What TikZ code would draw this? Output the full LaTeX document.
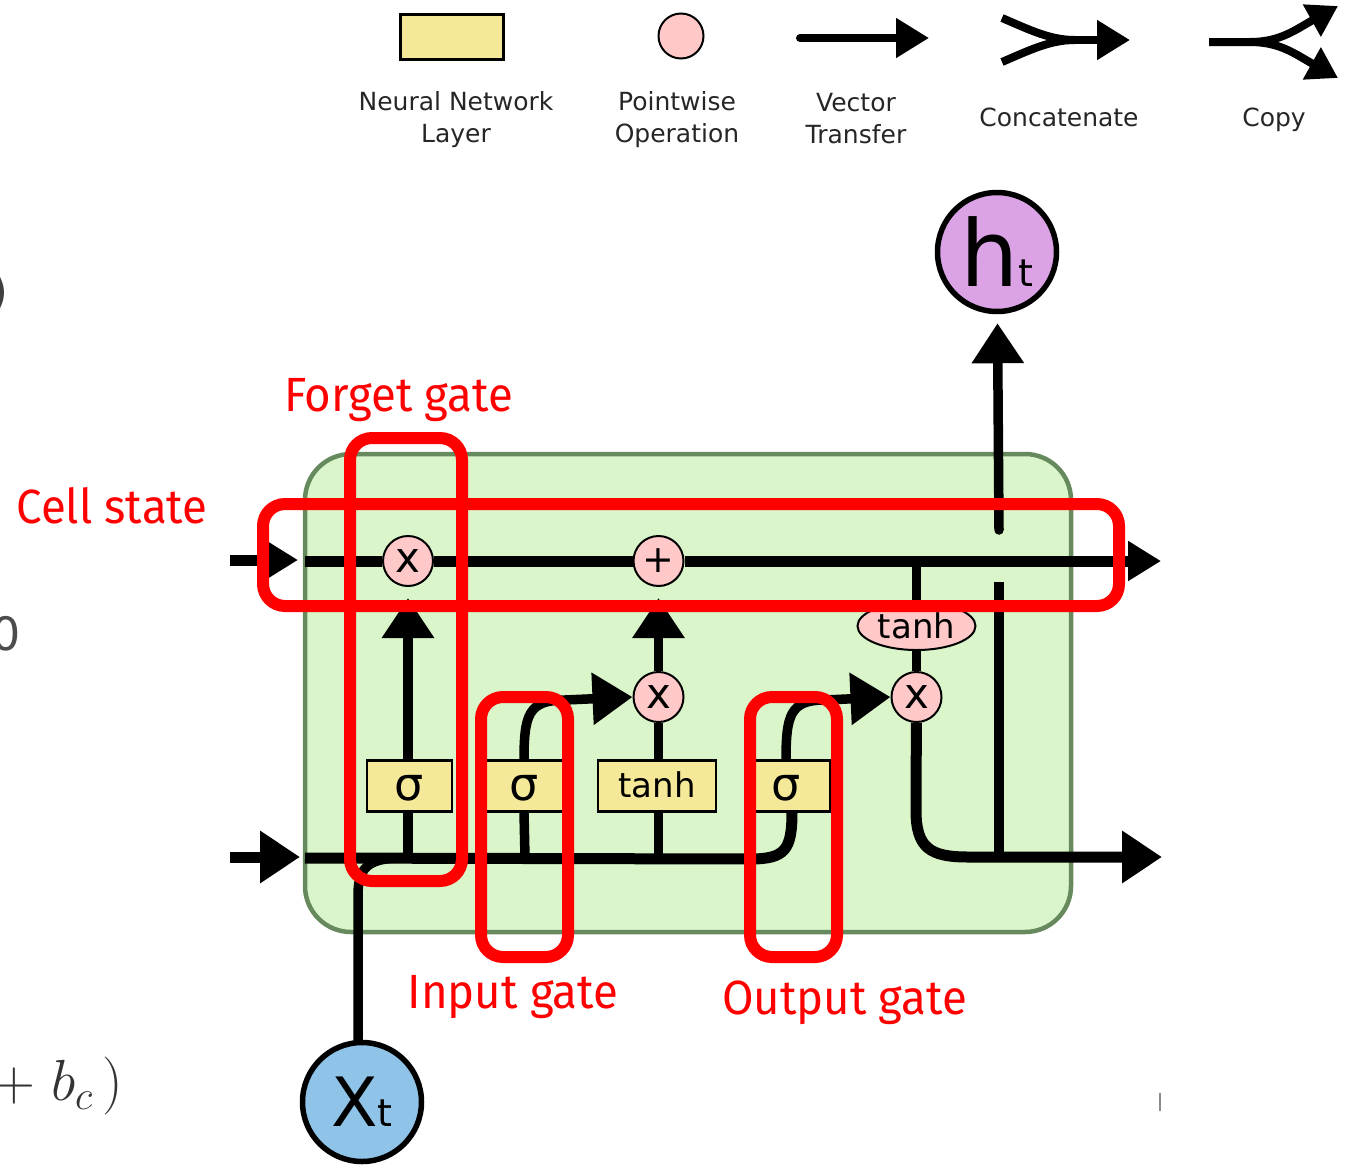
\documentclass[tikz,border=0pt]{standalone}
\usepackage{fix-cm}
\usepackage[no-math]{fontspec}
\setmainfont{DejaVu Sans}
\newfontfamily\gatefont[FakeStretch=0.95]{Fira Sans}
\usetikzlibrary{arrows.meta,shapes.geometric}

\definecolor{cellgreen}{HTML}{D9F5C9}
\definecolor{celledge}{HTML}{668A5E}
\definecolor{layeryellow}{HTML}{F5E999}
\definecolor{oppink}{HTML}{FFC9C9}
\definecolor{inblue}{HTML}{8FC4E8}
\definecolor{outpurple}{HTML}{DBA3E6}
\definecolor{framered}{HTML}{FF0000}

\newcommand{\fsz}[1]{\fontsize{#1}{#1}\selectfont}
\newcommand{\dropped}[2]{\raisebox{-#1pt}[0pt][0pt]{#2}}

\tikzset{
    wire/.style = {line width=11pt, draw=black},
    thinwire/.style = {line width=9.5pt, draw=black},
    legwire/.style = {line width=8pt, draw=black},
    bigtip/.style = {-{Triangle[length=40pt,width=50pt]}},
    midtip/.style = {-{Triangle[length=33pt,width=38pt]}},
    smalltip/.style = {-{Triangle[length=30pt,width=35pt]}},
    layerbox/.style = {rectangle, draw=black, line width=2.5pt, fill=layeryellow, inner sep=0pt, minimum height=51pt},
    opnode/.style = {circle, draw=black, line width=2pt, fill=oppink, inner sep=0pt, minimum size=50pt},
    ionode/.style = {circle, draw=black, line width=5.5pt, inner sep=0pt, minimum size=119pt},
    legendtext/.style = {align=center, font=\fsz{25}, text=black!85},
    gatelabel/.style = {text=framered, font=\gatefont\fsz{48}},
    gateframe/.style = {draw=framered, line width=12pt, rounded corners=22pt},
}

\begin{document}
\begin{tikzpicture}[x=1pt,y=-1pt]
    \useasboundingbox (0,0) rectangle (1353,1165);

    % leftovers at the edges
    \node [anchor=east, text=black!75, font=\fsz{46}, inner sep=0pt] (edgea) at (9,293) {)};
    \node [anchor=east, text=black!70, font=\fsz{46}, inner sep=0pt] (edgeb) at (21,634) {0};
    \node [anchor=west, text=black!80, font=\fsz{58}, inner sep=0pt] (edgec) at (-7,1086) {$+\;b_c\,)$};
    \coordinate (ticka) at (1160,1093);
    \coordinate (tickb) at (1160,1111);
    \draw [line width=1.5pt, black!45] (ticka) -- (tickb);

    % legend
    \node [layerbox, minimum width=103pt, minimum height=45pt] (legbox) at (452,37) {};
    \node [opnode, minimum size=45pt] (legop) at (681,36) {};
    \node [legendtext] (legboxtext) at (456,120) {Neural Network\\[7pt]Layer};
    \node [legendtext] (legoptext) at (677,120) {Pointwise\\[7pt]Operation};
    \node [legendtext] (legvectext) at (856,118.5) {Vector\\[7pt]Transfer};
    \node [legendtext] (legcattext) at (1059,117) {Concatenate};
    \node [legendtext] (legcopytext) at (1274,120) {Copy};

    \coordinate (vecstart) at (800,38);
    \coordinate (vecend) at (929,38);
    \draw [legwire, midtip, line cap=round] (vecstart) -- (vecend);

    \coordinate (cata) at (1002,18);
    \coordinate (catb) at (1002,62);
    \coordinate (catend) at (1130,40);
    \draw [legwire] (cata) .. controls (1030,30) and (1050,40) .. (1075,40);
    \draw [legwire] (catb) .. controls (1030,50) and (1050,40) .. (1075,40);
    \draw [legwire, midtip] (1070,40) -- (catend);

    \coordinate (copystart) at (1209,42);
    \coordinate (copya) at (1338,6);
    \coordinate (copyb) at (1338,78);
    \draw [legwire, smalltip] (copystart) -- (1250,42) .. controls (1280,42) and (1295,30) .. (copya);
    \draw [legwire, smalltip] (1250,42) .. controls (1280,42) and (1295,54) .. (copyb);

    % the cell
    \node [draw=celledge, line width=4.5pt, fill=cellgreen, rounded corners=46pt, minimum width=766pt, minimum height=478pt] (cell) at (688,693) {};

    \node [opnode, font=\fsz{42}] (times1) at (408,561) {x};
    \node [opnode, font=\fsz{38}] (plus) at (658.5,561) {+};
    \node [opnode, font=\fsz{42}] (times2) at (658.5,697) {x};
    \node [opnode, font=\fsz{42}] (times3) at (916.5,697) {x};
    \node [ellipse, draw=black, line width=2pt, fill=oppink, inner sep=0pt, minimum width=118pt, minimum height=48pt, font=\fsz{34}] (tanhop) at (916.5,626) {tanh};
    \node [layerbox, minimum width=85pt, font=\fsz{46}] (sigma1) at (409.5,786) {\dropped{14}{σ}};
    \node [layerbox, minimum width=85pt, font=\fsz{46}] (sigma2) at (524,786) {\dropped{14}{σ}};
    \node [layerbox, minimum width=118pt, font=\fsz{34}] (tanhbox) at (657,786) {\dropped{11}{tanh}};
    \node [layerbox, minimum width=80pt, font=\fsz{46}] (sigma3) at (790,786) {\hspace*{-8pt}\dropped{14}{σ}};

    \node [ionode, fill=outpurple] (ht) at (997,252) {\fsz{92}h\fsz{38}t};
    \node [ionode, fill=inblue] (xt) at (362,1102) {\fsz{68}X\fsz{38}t};

    % cell state line
    \coordinate (cellin) at (230,560);
    \coordinate (cellarrow) at (298,560);
    \coordinate (cellleft) at (305,561);
    \coordinate (cellout) at (1161,561);
    \draw [wire, midtip] (cellin) -- (cellarrow);
    \draw [wire] (cellleft) -- (times1);
    \draw [wire] (times1) -- (plus);
    \draw [wire, midtip] (plus) -- (cellout);

    % hidden state line
    \coordinate (hidin) at (230,857);
    \coordinate (hidarrow) at (300,857);
    \coordinate (hidleft) at (305,858);
    \coordinate (hidout) at (1162,857);
    \coordinate (sigmaonefoot) at (408,858);
    \coordinate (sigmatwofoot) at (525,858);
    \coordinate (tanhfoot) at (658.5,858);
    \coordinate (htfoot) at (999,857);
    \coordinate (htgaplow) at (999,582);
    \coordinate (htgapup) at (999,530);
    \coordinate (sigmathreein) at (792,812);
    \coordinate (sigmathreeout) at (786,761);
    \coordinate (sigmatwoout) at (524,761);
    \coordinate (sigmatwoin) at (524,812);
    \coordinate (xtjoin) at (358,1042);
    \draw [wire, bigtip] (hidin) -- (hidarrow);
    \draw [wire] (hidleft) -- (750,859) .. controls (785,859) and (792,850) .. (sigmathreein);
    \draw [thinwire] (sigmaonefoot) -- (sigma1.south -| sigmaonefoot);
    \draw [thinwire] (sigmatwofoot) -- (sigmatwoin);
    \draw [thinwire] (tanhfoot) -- (tanhbox.south -| tanhfoot);

    % gates
    \draw [thinwire, bigtip, shorten >=11pt] (sigma1.north -| times1) -- (times1);
    \draw [thinwire] (tanhbox.north -| times2) -- (times2);
    \draw [thinwire, bigtip, shorten >=11pt] (times2) -- (plus);
    \draw [thinwire, bigtip] (sigmatwoout) .. controls (524,715) and (528,700) .. (565,700) -- (times2.west);
    \draw [thinwire, bigtip] (sigmathreeout) .. controls (786,715) and (790,700) .. (825,700) -- (times3.west);
    \draw [thinwire] (plus.east -| times3) -- (tanhop);
    \draw [thinwire] (tanhop) -- (times3);
    \draw [wire, bigtip] (times3) -- (916,810) .. controls (916,848) and (930,857) .. (968,857) -- (hidout);

    % output
    \draw [thinwire] (htfoot) -- (htgaplow);
    \draw [thinwire, bigtip, line cap=round, shorten >=9pt] (htgapup) -- (ht);

    % input
    \draw [thinwire] (xtjoin) -- (358,895) .. controls (358,868) and (368,859) .. (398,858);

    % red marks
    \coordinate (forgetnw) at (350,438);
    \coordinate (forgetse) at (462,881);
    \coordinate (cellnw) at (263,504);
    \coordinate (cellse) at (1119,606);
    \coordinate (inputnw) at (481,697);
    \coordinate (inputse) at (568,957);
    \coordinate (outputnw) at (750,697);
    \coordinate (outputse) at (837,957);
    \draw [gateframe] (forgetnw) rectangle (forgetse);
    \draw [gateframe] (cellnw) rectangle (cellse);
    \draw [gateframe] (inputnw) rectangle (inputse);
    \draw [gateframe] (outputnw) rectangle (outputse);

    \node [gatelabel] (forgetlabel) at (398.5,400) {Forget gate};
    \node [gatelabel] (celllabel) at (112,506) {Cell state};
    \node [gatelabel] (inputlabel) at (513,997) {Input gate};
    \node [gatelabel] (outputlabel) at (844.5,1003) {Output gate};
\end{tikzpicture}
\end{document}
